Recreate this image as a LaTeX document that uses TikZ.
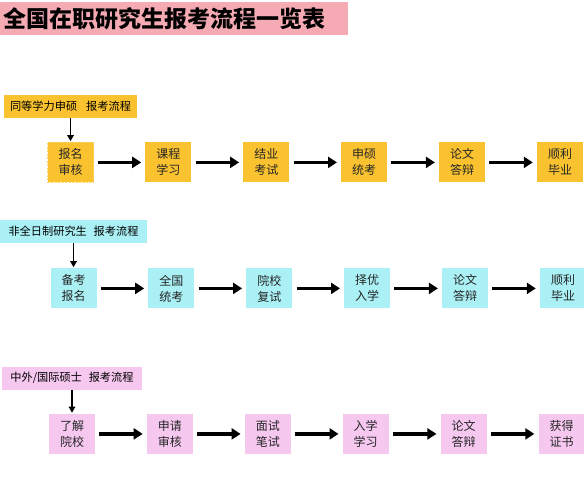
\documentclass[tikz,border=0pt]{standalone}
\usepackage{fontspec}
\setmainfont{Noto Sans CJK SC}
\usepackage{xcolor}
\usetikzlibrary{positioning,arrows.meta}
\definecolor{stepyellow}{HTML}{F9C22E}
\definecolor{stepcyan}{HTML}{AAF0F4}
\definecolor{steppink}{HTML}{F6C8F0}
\definecolor{titlepink}{HTML}{F5AAB4}
\tikzset{
  head/.style={inner sep=0pt, minimum height=23pt, align=center, font=\fontsize{11.2}{13}\selectfont},
  stage/.style={minimum width=46pt, minimum height=40pt, inner sep=0pt, align=center, text=black!85, font=\fontsize{12}{16}\selectfont},
  flow/.style={-{Triangle[length=9pt,width=11pt]}, line width=3.4pt, shorten <=4pt, shorten >=4pt},
  down/.style={-{Triangle[length=6pt,width=6.5pt]}, line width=1.2pt, shorten >=1pt}
}

\begin{document}
\begin{tikzpicture}[x=1pt, y=-1pt, node distance=51.5pt]
  \useasboundingbox (0,0) rectangle (584,500);
  % title
  \fill[titlepink] (0,2) rectangle (348,35);
  \node[anchor=west, inner sep=0pt, font=\fontsize{23}{25}\selectfont\bfseries] (title) at (3,18.5) {全国在职研究生报考流程一览表};

  % row 1
  \node[head, fill=stepyellow, minimum width=133pt] (headA) at (70.5,106.5) {同等学力申硕\hspace{0.8em}报考流程};
  \node[stage, fill=stepyellow, draw=stepyellow!70!white, dash pattern=on 2pt off 1.5pt, below=24pt of headA] (a1) {报名\\审核};
  \node[stage, fill=stepyellow, right=of a1] (a2) {课程\\学习};
  \node[stage, fill=stepyellow, right=of a2] (a3) {结业\\考试};
  \node[stage, fill=stepyellow, right=of a3] (a4) {申硕\\统考};
  \node[stage, fill=stepyellow, right=of a4] (a5) {论文\\答辩};
  \node[stage, fill=stepyellow, right=of a5] (a6) {顺利\\毕业};

  % row 2
  \node[head, fill=stepcyan, minimum width=147pt] (headB) at (73.5,231.5) {非全日制研究生\hspace{0.6em}报考流程};
  \node[stage, fill=stepcyan, below=25pt of headB] (b1) {备考\\报名};
  \node[stage, fill=stepcyan, right=of b1] (b2) {全国\\统考};
  \node[stage, fill=stepcyan, right=of b2] (b3) {院校\\复试};
  \node[stage, fill=stepcyan, right=of b3] (b4) {择优\\入学};
  \node[stage, fill=stepcyan, right=of b4] (b5) {论文\\答辩};
  \node[stage, fill=stepcyan, right=of b5] (b6) {顺利\\毕业};

  % row 3
  \node[head, fill=steppink, minimum width=140pt] (headC) at (72,378) {中外/国际硕士\hspace{0.6em}报考流程};
  \node[stage, fill=steppink, below=24pt of headC] (c1) {了解\\院校};
  \node[stage, fill=steppink, right=of c1] (c2) {申请\\审核};
  \node[stage, fill=steppink, right=of c2] (c3) {面试\\笔试};
  \node[stage, fill=steppink, right=of c3] (c4) {入学\\学习};
  \node[stage, fill=steppink, right=of c4] (c5) {论文\\答辩};
  \node[stage, fill=steppink, right=of c5] (c6) {获得\\证书};

  % arrows
  \draw[down] (headA) -- (a1);
  \draw[down] (headB) -- (b1);
  \draw[down] (headC) -- (c1);
  \foreach \row in {a,b,c}
    \foreach \i/\j in {1/2,2/3,3/4,4/5,5/6}
      \draw[flow] (\row\i.east) -- (\row\j.west);
\end{tikzpicture}
\end{document}
